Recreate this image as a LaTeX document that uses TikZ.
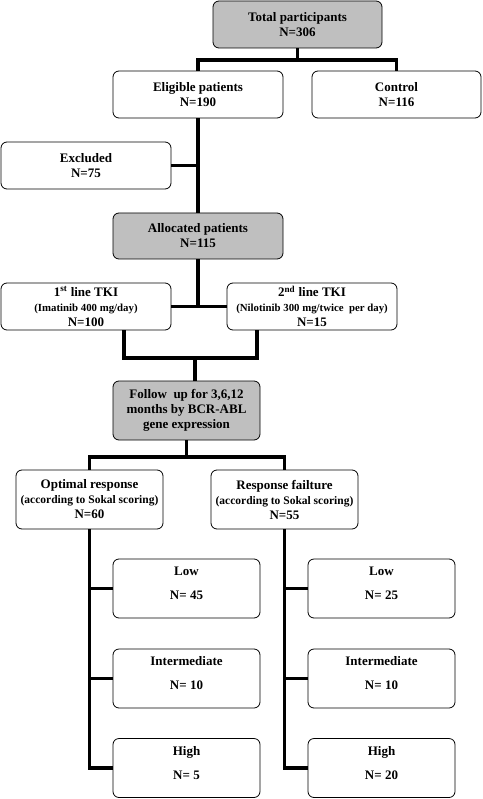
\documentclass[tikz,border=0pt]{standalone}
\usepackage{fontspec}
\setmainfont{Liberation Serif}
\begin{document}
\begin{tikzpicture}[x=1pt,y=-1pt,
  box/.style={draw, line width=0.8pt, rounded corners=6pt, fill=white, align=center, inner sep=0pt,
    font=\bfseries\fontsize{13}{15}\selectfont},
  graybox/.style={box, fill=gray!50},
  wbig/.style={minimum width=170pt, minimum height=47pt},
  wmid/.style={minimum width=147pt, minimum height=59pt},
  conn/.style={line width=3.5pt, line join=miter}]
\useasboundingbox (0,0) rectangle (482,799);
\newcommand{\smallln}{\fontsize{10.8}{13}\selectfont}
\newcommand{\midln}{\fontsize{11.5}{14}\selectfont}
% nodes
\node[graybox, wbig, minimum width=169pt] (total) at (297.5,24.5) {Total participants\\N=306};
\node[box, wbig] (eligible) at (198,94.5) {Eligible patients\\N=190};
\node[box, wbig, minimum width=169pt] (control) at (396.5,94.5) {Control\\N=116};
\node[box, wbig] (excluded) at (86,165.5) {Excluded\\N=75};
\node[graybox, wbig, minimum height=46pt] (allocated) at (198,236) {Allocated patients\\N=115};
\node[box, wbig] (first) at (86,306.5) {1\textsuperscript{st} line TKI\\{\smallln (Imatinib 400 mg/day)}\\N=100};
\node[box, wbig] (second) at (312,306.5) {2\textsuperscript{nd} line TKI\\{\smallln (Nilotinib 300 mg/twice\ \ per day)}\\N=15};
\node[graybox, wmid] (follow) at (186.5,410.5) {Follow\ \ up for 3,6,12\\months by BCR-ABL\\gene expression};
\node[box, wmid] (optimal) at (89.5,499.5) {Optimal response\\{\midln (according to Sokal scoring)}\\N=60};
\node[box, wmid] (failure) at (284.5,499.5) {Response failture\\{\midln (according to Sokal scoring)}\\N=55};
\node[box, wmid] (lowL) at (186.5,588.5) {Low\\[9pt]N= 45\\[-4pt]\mbox{}};
\node[box, wmid] (intL) at (186.5,678.5) {Intermediate\\[9pt]N= 10\\[-4pt]\mbox{}};
\node[box, wmid] (highL) at (186.5,768) {High\\[9pt]N= 5\\[-4pt]\mbox{}};
\node[box, wmid] (lowR) at (381.5,588.5) {Low\\[9pt]N= 25\\[-4pt]\mbox{}};
\node[box, wmid] (intR) at (381.5,678.5) {Intermediate\\[9pt]N= 10\\[-4pt]\mbox{}};
\node[box, wmid] (highR) at (381.5,768) {High\\[9pt]N= 20\\[-4pt]\mbox{}};
% junctions
\coordinate (j1) at (297.5,60);
\coordinate (f1) at (124,358);
\coordinate (f2) at (257,358);
\coordinate (fm) at (195,358);
\coordinate (j3) at (186.5,457);
% connectors
\draw[conn] (total.south) -- (j1);
\draw[conn] (eligible.north) |- (j1) -| (control.north);
\draw[conn] (eligible.south) -- (allocated.north);
\draw[conn] (excluded.east) -- (excluded.east -| eligible.south);
\draw[conn] (allocated.south) -- (allocated.south |- first.east);
\draw[conn] (first.east) -- (second.west);
\draw[conn] (f1 |- first.south) -- (f1) -- (f2) -- (f2 |- second.south);
\draw[conn] (fm) -- (fm |- follow.north);
\draw[conn] (follow.south) -- (j3);
\draw[conn] (optimal.north) |- (j3) -| (failure.north);
\draw[conn] (optimal.south) |- (highL.west);
\draw[conn] (optimal.south |- lowL.west) -- (lowL.west);
\draw[conn] (optimal.south |- intL.west) -- (intL.west);
\draw[conn] (failure.south) |- (highR.west);
\draw[conn] (failure.south |- lowR.west) -- (lowR.west);
\draw[conn] (failure.south |- intR.west) -- (intR.west);
\end{tikzpicture}
\end{document}
